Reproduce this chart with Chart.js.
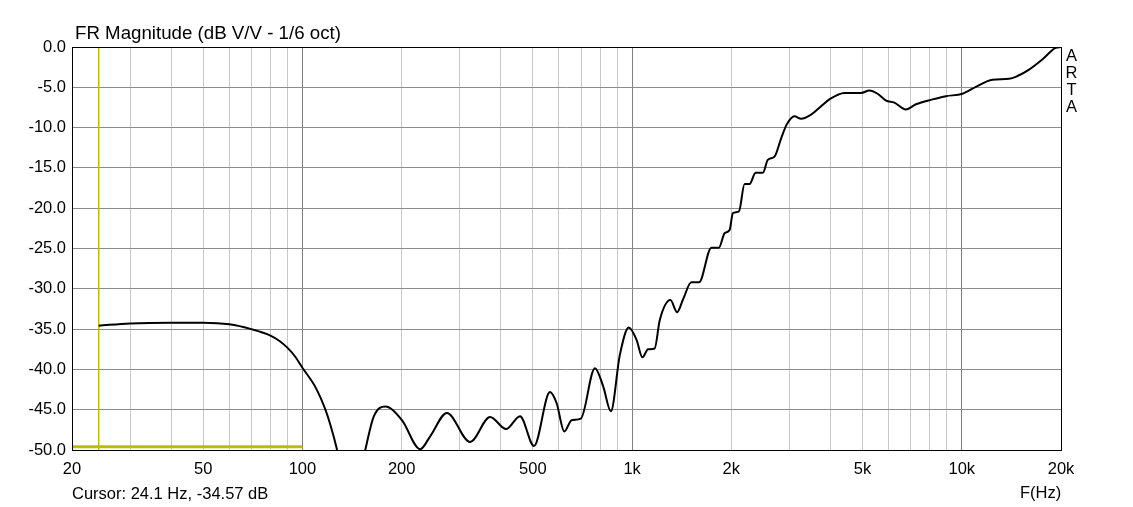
<!DOCTYPE html>
<html>
<head>
<meta charset="utf-8">
<script src="https://cdn.jsdelivr.net/npm/chart.js@4/dist/chart.umd.min.js"></script>
<style>
  html, body { margin: 0; padding: 0; background: #fff; }
</style>
</head>
<body>
<canvas id="myChart" width="1133" height="507"></canvas>
<script>
// response curve (Hz, dB)
const freqs = [24.1, 30, 40, 50, 60, 70, 80, 85, 90, 95, 100, 109.5, 117.4, 121.6, 127.4, 140, 155.1,
  164.4, 178.4, 200.4, 227.6, 244.1, 274.3, 322.6, 370.9, 414.7, 457.1, 504, 563.5, 590.4,
  622.6, 655.5, 699.3, 771.3, 817.2, 862.2, 918, 977.2, 1031, 1075, 1118, 1171, 1213, 1307,
  1369, 1428, 1513, 1596, 1740, 1834, 1908, 1976, 2022, 2109, 2194, 2272, 2369, 2493, 2580,
  2704, 2834, 2946, 3108, 3257, 3491, 3744, 3967, 4405, 4949, 5244, 5556, 5892, 6243, 6771,
  7262, 8152, 8949, 10048, 11033, 12388, 13917, 14752, 16001, 17555, 19272, 20000];
const magDb = [-34.57, -34.3, -34.2, -34.2, -34.4, -35.0, -35.8, -36.45, -37.3, -38.4, -39.8, -42.2, -45.0,
  -46.9, -50.0, -58, -50.0, -45.9, -44.6, -46.3, -49.9, -48.3, -45.4, -49.0, -45.9, -47.4,
  -45.8, -49.5, -42.8, -44.2, -47.7, -46.3, -46.1, -39.85, -42.1, -45.2, -38.2, -34.8, -36.3,
  -38.5, -37.5, -37.4, -33.9, -31.4, -32.9, -31.3, -29.2, -29.2, -24.9, -24.9, -23.1, -22.7,
  -20.6, -20.4, -17.0, -17.0, -15.6, -15.6, -14.0, -13.6, -11.3, -9.6, -8.6, -8.9, -8.4,
  -7.35, -6.5, -5.7, -5.7, -5.4, -5.8, -6.65, -6.9, -7.75, -7.1, -6.5, -6.1, -5.8, -4.95,
  -4.05, -3.95, -3.6, -2.8, -1.55, -0.1, 0];

// yellow reference line and cursor
const refFreqs = [20, 100];
const refDb = [-49.6, -49.6];
const cursorFreq = 24.1;
const cursorDb = -34.57;

const xTickLabels = [20, 50, 100, 200, 500, 1000, 2000, 5000, 10000, 20000];
const yMin = -50, yMax = 0, yStep = 5;

const titleText = 'FR Magnitude (dB V/V - 1/6 oct)';
const cursorText = 'Cursor: ' + cursorFreq + ' Hz, ' + cursorDb + ' dB';
const sideText = ['A', 'R', 'T', 'A'];

const FONT = '"Liberation Sans", Arial, sans-serif';

// grid lines at 1..9 of every decade
let gridFreqs = [];
for (let d = 10; d <= 10000; d *= 10) {
    for (let m = 1; m <= 9; m++) {
        let v = m * d;
        if (v >= 20 && v <= 20000) gridFreqs.push(v);
    }
}

function fmtFreq(v) {
    if (v >= 1000) return (v / 1000) + 'k';
    return String(v);
}
function isDecade(v) {
    return v === 100 || v === 1000 || v === 10000;
}

const annotate = {
    id: 'annotate',
    afterDraw(chart) {
        const ctx = chart.ctx;
        const a = chart.chartArea;
        ctx.save();
        ctx.strokeStyle = '#000';
        ctx.lineWidth = 1;
        ctx.strokeRect(Math.round(a.left) + 0.5, Math.round(a.top) + 0.5,
            Math.round(a.right - a.left), Math.round(a.bottom - a.top));
        ctx.fillStyle = '#000';
        ctx.textAlign = 'left';
        ctx.textBaseline = 'alphabetic';
        ctx.font = '18.7px ' + FONT;
        ctx.fillText(titleText, 75, 39);
        ctx.font = '16.5px ' + FONT;
        ctx.fillText(cursorText, 72, 499);
        ctx.fillText('F(Hz)', 1020, 498);
        ctx.textAlign = 'center';
        sideText.forEach((ch, i) => ctx.fillText(ch, 1071.5, 61 + i * 17));
        ctx.restore();
    }
};

const ctx = document.getElementById('myChart').getContext('2d');
new Chart(ctx, {
    type: 'line',
    data: {
        datasets: [
            {
                label: 'FR',
                data: freqs.map((f, i) => ({ x: f, y: magDb[i] })),
                borderColor: '#000',
                borderWidth: 2,
                pointRadius: 0,
                cubicInterpolationMode: 'monotone'
            },
            {
                label: 'ref',
                data: refFreqs.map((f, i) => ({ x: f, y: refDb[i] })),
                borderColor: '#bdbd00',
                borderWidth: 3,
                pointRadius: 0
            },
            {
                label: 'cursor',
                data: [{ x: cursorFreq, y: yMax }, { x: cursorFreq, y: yMin }],
                borderColor: '#bdbd00',
                borderWidth: 1,
                pointRadius: 0
            }
        ]
    },
    options: {
        responsive: false,
        animation: false,
        events: [],
        layout: { padding: { top: 47, right: 72, left: 0, bottom: 0 } },
        plugins: { legend: { display: false }, tooltip: { enabled: false } },
        scales: {
            x: {
                type: 'logarithmic',
                min: 20,
                max: 20000,
                afterBuildTicks: s => { s.ticks = gridFreqs.map(v => ({ value: v })); },
                afterFit: s => { s.height = 57; },
                ticks: {
                    autoSkip: false,
                    maxRotation: 0,
                    padding: 10,
                    color: '#000',
                    font: { family: FONT, size: 16.5 },
                    callback: v => xTickLabels.includes(v) ? fmtFreq(v) : ''
                },
                grid: {
                    drawTicks: false,
                    color: c => (c.tick && isDecade(c.tick.value)) ? '#808080' : '#c8c8c8'
                },
                border: { display: false }
            },
            y: {
                min: yMin,
                max: yMax,
                afterFit: s => { s.width = 72; },
                ticks: {
                    stepSize: yStep,
                    padding: 6,
                    color: '#000',
                    font: { family: FONT, size: 16.5 },
                    callback: v => v.toFixed(1)
                },
                grid: { drawTicks: false, color: '#8c8c8c' },
                border: { display: false }
            }
        }
    },
    plugins: [annotate]
});
</script>
</body>
</html>
